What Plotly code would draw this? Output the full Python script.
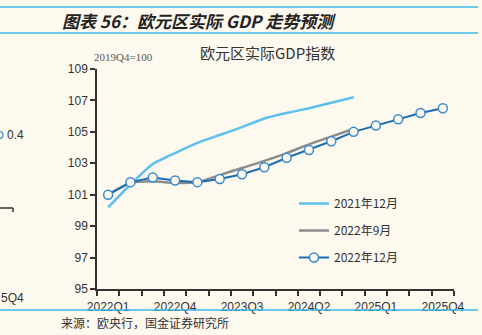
import plotly.graph_objects as go

# ---------------- data ----------------
quarters = ["2022Q1", "2022Q2", "2022Q3", "2022Q4",
            "2023Q1", "2023Q2", "2023Q3", "2023Q4",
            "2024Q1", "2024Q2", "2024Q3", "2024Q4",
            "2025Q1", "2025Q2", "2025Q3", "2025Q4"]
fc_2021_12 = [100.2, 101.65, 102.95, 103.65, 104.3, 104.8, 105.3, 105.85,
              106.2, 106.5, 106.85, 107.2]
fc_2022_09 = [101.0, 101.75, 101.85, 101.75, 101.8, 102.25, 102.7, 103.15,
              103.65, 104.2, 104.7, 105.2]
fc_2022_12 = [101.0, 101.8, 102.1, 101.9, 101.8, 102.0, 102.3, 102.75,
              103.35, 103.85, 104.4, 105.0, 105.4, 105.8, 106.2, 106.5]
series_names = ["2021年12月", "2022年9月", "2022年12月"]
y_ticks = [95, 97, 99, 101, 103, 105, 107, 109]
label_step = 3

# ---------------- layout helpers ----------------
W, H = 482, 335
L, R, T, B = 97, 454, 69, 289
BG = "#FDF9EF"
SANS = "Liberation Sans, Arial, Noto Sans CJK SC, sans-serif"
CJK = "Noto Sans CJK SC, sans-serif"


def px(x):
    return (x - L) / (R - L)


def py(y):
    return (B - y) / (B - T)


fig = go.Figure()

fig.add_trace(go.Scatter(
    x=list(range(len(fc_2021_12))), y=fc_2021_12, name=series_names[0],
    mode="lines", line=dict(color="#5BC0EE", width=2.5, shape="spline", smoothing=0.5),
    legendgroup="a"))
fig.add_trace(go.Scatter(
    x=list(range(len(fc_2022_09))), y=fc_2022_09, name=series_names[1],
    mode="lines", line=dict(color="#8C8C8C", width=2.5, shape="spline", smoothing=0.7),
    legendgroup="b"))
fig.add_trace(go.Scatter(
    x=list(range(len(fc_2022_12))), y=fc_2022_12, name=series_names[2],
    mode="lines+markers", line=dict(color="#1D6CB2", width=2),
    marker=dict(symbol="circle", size=9, color=BG,
                line=dict(color="#3A8AD0", width=1.5)),
    legendgroup="c"))

tickvals = list(range(0, len(quarters), label_step))
fig.update_xaxes(
    range=[-0.5, len(quarters) - 0.5],
    tickmode="array", tickvals=tickvals, ticktext=[quarters[i] for i in tickvals],
    ticks="outside", ticklen=6, tickcolor="rgba(0,0,0,0)",
    showline=True, linecolor="#333", linewidth=1.5,
    showgrid=False, zeroline=False,
    tickfont=dict(family=SANS, size=12, color="#333"),
    minor=dict(ticks="outside", ticklen=5, tickwidth=1.5, tickcolor="#333",
               tickmode="linear", tick0=-0.5, dtick=1, showgrid=False),
)
fig.update_yaxes(
    range=[95, 109], tickmode="array", tickvals=y_ticks,
    ticks="outside", ticklen=5, tickwidth=1.5, tickcolor="#333",
    showline=True, linecolor="#333", linewidth=1.5,
    showgrid=False, zeroline=False,
    tickfont=dict(family=SANS, size=12, color="#333"),
)


def note(x, y, text, font, xanchor="left"):
    return dict(x=px(x), y=py(y), xref="paper", yref="paper", text=text,
                xanchor=xanchor, yanchor="middle", showarrow=False, font=font)


annotations = [
    note(60, 20, "<b><i>图表 56：欧元区实际 GDP 走势预测</i></b>",
         dict(family=CJK, size=17, color="#222")),
    note(267, 53, "欧元区实际GDP指数", dict(family=CJK, size=15, color="#333"), "center"),
    note(92, 57, "2019Q4=100", dict(family="Liberation Serif, serif", size=11, color="#555")),
    note(59, 322, "来源：欧央行，国金证券研究所", dict(family=CJK, size=12, color="#333")),
    note(5, 135, "0.4", dict(family=SANS, size=12, color="#333")),
    note(-1, 298, "5Q4", dict(family=SANS, size=12, color="#333")),
]

shapes = [
    dict(type="line", xref="paper", yref="paper", x0=px(0), x1=px(478), y0=py(7), y1=py(7),
         line=dict(color="#3CB6E6", width=1.5)),
    dict(type="line", xref="paper", yref="paper", x0=px(0), x1=px(478), y0=py(33), y1=py(33),
         line=dict(color="#3CB6E6", width=1.5)),
    dict(type="line", xref="paper", yref="paper", x0=px(0), x1=px(478), y0=py(310), y1=py(310),
         line=dict(color="#3CB6E6", width=1.5)),
    dict(type="line", xref="paper", yref="paper", x0=px(0), x1=px(13), y0=py(208), y1=py(208),
         line=dict(color="#333", width=1.5)),
    dict(type="line", xref="paper", yref="paper", x0=px(13), x1=px(13), y0=py(208), y1=py(212),
         line=dict(color="#333", width=1.5)),
    dict(type="circle", xref="paper", yref="paper", x0=px(-3.5), x1=px(3), y0=py(131.5), y1=py(138.5),
         line=dict(color="#3A8AD0", width=1.2)),
]

fig.update_layout(
    width=W, height=H,
    margin=dict(l=L, r=W - R, t=T, b=H - B, pad=0),
    paper_bgcolor=BG, plot_bgcolor=BG,
    showlegend=True,
    legend=dict(x=px(294), y=py(189), xanchor="left", yanchor="top",
                bgcolor="rgba(0,0,0,0)", tracegroupgap=8,
                font=dict(family=CJK, size=12, color="#333")),
    annotations=annotations, shapes=shapes,
)

fig.write_html("out.html")
